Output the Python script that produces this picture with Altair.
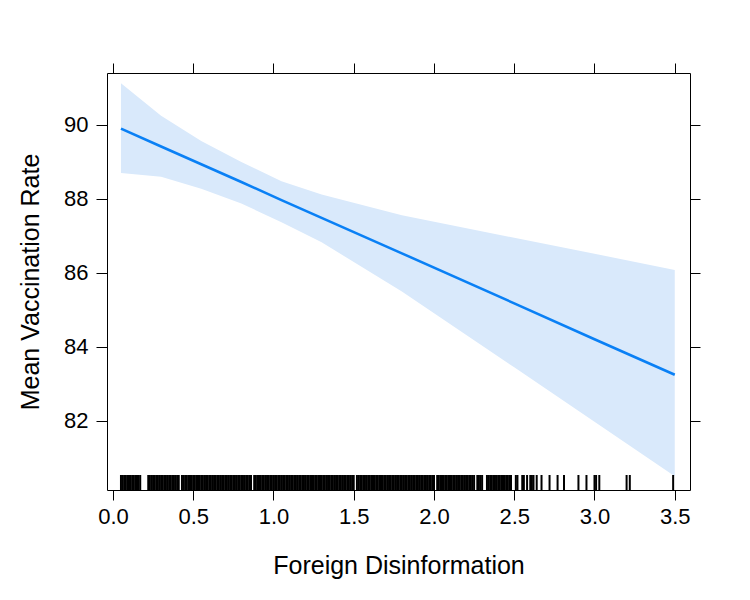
import altair as alt
import pandas as pd

# Effect curve (fit) and confidence band
x_pts = [0.05, 0.30, 0.55, 0.80, 1.05, 1.30, 1.80, 2.50, 3.00, 3.50]
fit = [89.90, 89.42, 88.94, 88.46, 87.97, 87.49, 86.53, 85.18, 84.21, 83.25]
upper = [91.13, 90.25, 89.57, 89.00, 88.48, 88.12, 87.56, 86.95, 86.52, 86.08]
lower = [88.70, 88.60, 88.28, 87.88, 87.37, 86.83, 85.50, 83.45, 81.98, 80.51]

# Rug: observed values of Foreign Disinformation
rug = [0.05, 0.06, 0.07, 0.08, 0.09, 0.10, 0.11, 0.12, 0.13, 0.14, 0.15, 0.16, 0.17,
       0.22, 0.23, 0.24, 0.25, 0.26, 0.27, 0.28, 0.29, 0.30, 0.31, 0.32, 0.33, 0.34,
       0.35, 0.36, 0.37, 0.38, 0.39, 0.40, 0.41, 0.43, 0.44, 0.45, 0.46, 0.47, 0.48,
       0.49, 0.50, 0.51, 0.52, 0.53, 0.54, 0.55, 0.56, 0.57, 0.58, 0.59, 0.60, 0.61,
       0.62, 0.63, 0.64, 0.65, 0.66, 0.67, 0.68, 0.69, 0.70, 0.71, 0.72, 0.73, 0.74,
       0.75, 0.76, 0.77, 0.78, 0.79, 0.80, 0.81, 0.82, 0.83, 0.84, 0.85, 0.86, 0.88,
       0.89, 0.90, 0.91, 0.92, 0.93, 0.94, 0.95, 0.96, 0.97, 0.98, 0.99, 1.00, 1.01,
       1.02, 1.03, 1.04, 1.05, 1.06, 1.07, 1.08, 1.09, 1.10, 1.11, 1.12, 1.13, 1.14,
       1.15, 1.16, 1.17, 1.18, 1.19, 1.20, 1.21, 1.22, 1.23, 1.24, 1.25, 1.26, 1.27,
       1.28, 1.29, 1.30, 1.31, 1.32, 1.33, 1.34, 1.35, 1.36, 1.37, 1.38, 1.39, 1.40,
       1.41, 1.42, 1.43, 1.44, 1.45, 1.46, 1.47, 1.48, 1.49, 1.50, 1.52, 1.53, 1.54,
       1.55, 1.56, 1.57, 1.58, 1.59, 1.60, 1.61, 1.62, 1.63, 1.64, 1.65, 1.66, 1.67,
       1.68, 1.69, 1.70, 1.71, 1.72, 1.73, 1.74, 1.75, 1.76, 1.77, 1.78, 1.79, 1.80,
       1.81, 1.82, 1.83, 1.84, 1.85, 1.86, 1.87, 1.88, 1.89, 1.90, 1.91, 1.92, 1.93,
       1.94, 1.95, 1.96, 1.97, 1.98, 1.99, 2.00, 2.02, 2.03, 2.04, 2.05, 2.06, 2.07,
       2.08, 2.09, 2.10, 2.11, 2.12, 2.13, 2.14, 2.15, 2.16, 2.17, 2.18, 2.19, 2.20,
       2.21, 2.22, 2.23, 2.24, 2.25, 2.27, 2.28, 2.29, 2.30, 2.33, 2.34, 2.35, 2.36,
       2.37, 2.38, 2.39, 2.40, 2.41, 2.42, 2.43, 2.44, 2.45, 2.46, 2.47, 2.48, 2.51,
       2.52, 2.55, 2.56, 2.58, 2.60, 2.61, 2.62, 2.64, 2.67, 2.72, 2.77, 2.81, 2.90,
       2.95, 3.00, 3.01, 3.03, 3.20, 3.22, 3.49]

x_ticks = [0.0, 0.5, 1.0, 1.5, 2.0, 2.5, 3.0, 3.5]
y_ticks = [82, 84, 86, 88, 90]

curve = pd.DataFrame({"x": x_pts, "fit": fit, "upper": upper, "lower": lower})
rug_df = pd.DataFrame({"x": rug})

W, H = 583, 417
FONT = "Liberation Sans"

xscale = alt.Scale(domain=[-0.037, 3.595], nice=False, zero=False)
yscale = alt.Scale(domain=[80.135, 91.405], nice=False, zero=False)

x_bottom = alt.X("x:Q", scale=xscale, title="Foreign Disinformation",
                 axis=alt.Axis(orient="bottom", values=x_ticks, format=".1f",
                               grid=False, domain=False, tickColor="black",
                               tickSize=10, labelPadding=6, labelFontSize=22,
                               labelColor="black", titleFontSize=25,
                               titleFontWeight="normal", titleColor="black",
                               titlePadding=26, labelFont=FONT, titleFont=FONT))
y_left = alt.Y("upper:Q", scale=yscale, title="Mean Vaccination Rate",
               axis=alt.Axis(orient="left", values=y_ticks, format="d",
                             grid=False, domain=False, tickColor="black",
                             tickSize=11, labelPadding=8, labelFontSize=22,
                             labelColor="black", titleFontSize=25,
                             titleFontWeight="normal", titleColor="black",
                             titlePadding=20, labelFont=FONT, titleFont=FONT))

band = alt.Chart(curve).mark_area(color="#d9e9fb", opacity=1).encode(
    x=x_bottom, y=y_left, y2="lower:Q")

line = alt.Chart(curve).mark_line(color="#0a80f5", strokeWidth=2.6).encode(
    x=alt.X("x:Q", scale=xscale,
            axis=alt.Axis(orient="top", values=x_ticks, labels=False, title=None,
                          grid=False, domain=False, tickColor="black", tickSize=10)),
    y=alt.Y("fit:Q", scale=yscale,
            axis=alt.Axis(orient="right", values=y_ticks, labels=False, title=None,
                          grid=False, domain=False, tickColor="black", tickSize=10)))

rugs = alt.Chart(rug_df).mark_rule(color="black", strokeWidth=2).encode(
    x=alt.X("x:Q", scale=xscale, axis=None),
    y=alt.value(H - 15), y2=alt.value(H))

chart = alt.layer(band, line, rugs).resolve_axis(x="independent", y="independent").properties(
    width=W, height=H,
    autosize=alt.AutoSizeParams(type="none"),
    padding={"left": 99, "top": 65, "right": 40, "bottom": 90},
    background="white",
).configure_view(stroke="black", strokeWidth=1)

chart.save("out.html", embed_options={"renderer": "svg", "actions": False})
